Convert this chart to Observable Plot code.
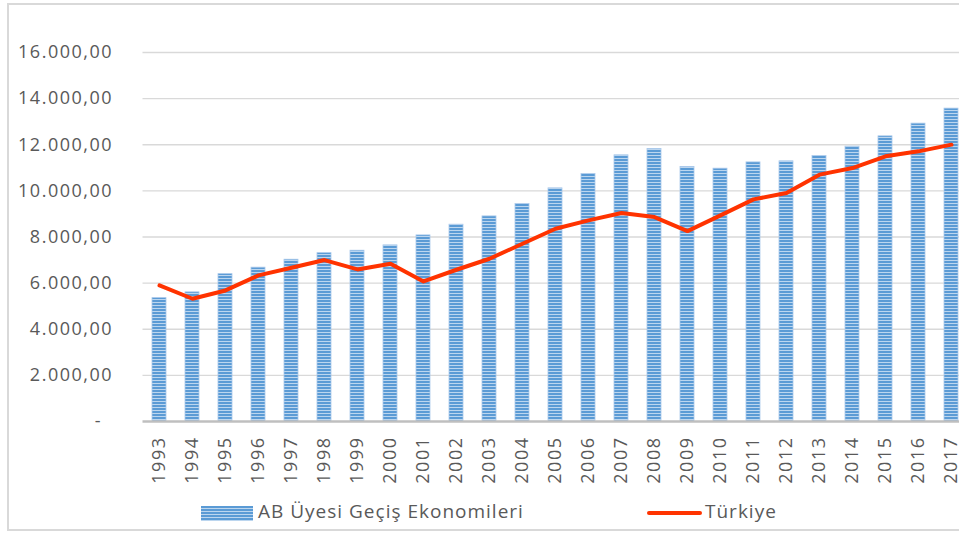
<!DOCTYPE html>
<html>
<head>
<meta charset="utf-8">
<script src="https://cdn.jsdelivr.net/npm/d3@7"></script>
<script src="https://cdn.jsdelivr.net/npm/@observablehq/plot@0.6"></script>
<style>
  html, body { margin: 0; padding: 0; width: 959px; height: 533px; overflow: hidden; background: #fff; }
  #frame { position: absolute; left: 7px; top: 3px; width: 1000px; height: 528px; border: 2px solid #d9d9d9; box-sizing: border-box; }
  #chart { position: absolute; left: 0; top: 0; }
  .leg { position: absolute; font-family: "Open Sans", sans-serif; font-size: 19px; color: #595959; letter-spacing: 1px; line-height: 1; }
</style>
</head>
<body>
<div id="frame"></div>
<div id="chart"></div>
<div class="leg" style="left:201px; top:506px; width:52px; height:15px; background: repeating-linear-gradient(to bottom, #5b9bd5 0px, #5b9bd5 2px, #bcd6ef 2px, #bcd6ef 3px);"></div>
<div class="leg" style="left:258px; top:502px;">AB Üyesi Geçiş Ekonomileri</div>
<div class="leg" style="left:647px; top:511px; width:55px; height:4px; background:#ff3300; border-radius:2px;"></div>
<div class="leg" style="left:705px; top:502px;">Türkiye</div>
<script>
const years = ["1993","1994","1995","1996","1997","1998","1999","2000","2001","2002","2003","2004","2005","2006","2007","2008","2009","2010","2011","2012","2013","2014","2015","2016","2017"];
const abValues = [5350, 5600, 6390, 6670, 7015, 7300, 7405, 7636, 8069, 8533, 8894, 9428, 10108, 10730, 11540, 11813, 11033, 10962, 11236, 11280, 11510, 11917, 12364, 12915, 13566];
const trValues = [5900, 5322, 5683, 6334, 6668, 7000, 6594, 6840, 6074, 6580, 7057, 7708, 8359, 8720, 9038, 8864, 8257, 8937, 9631, 9906, 10703, 10990, 11497, 11714, 12004];
const yTicks = [2000, 4000, 6000, 8000, 10000, 12000, 14000, 16000];

const ab = years.map((y, i) => ({year: y, value: abValues[i]}));
const tr = years.map((y, i) => ({year: y, value: trValues[i]}));

const fmt = d => d3.format(",.2f")(d).replace(/,/g, "X").replace(/\./g, ",").replace(/X/g, ".");
const font = "'Open Sans', sans-serif";

const svg = Plot.plot({
  width: 968,
  height: 500,
  marginLeft: 142.5,
  marginRight: 0,
  marginTop: 52,
  marginBottom: 79,
  style: {fontFamily: font, fontSize: "18px", color: "#595959", background: "transparent", maxWidth: "none"},
  x: {domain: years, paddingInner: 0.58, paddingOuter: 0.29},
  y: {domain: [0, 16000]},
  marks: [
    Plot.ruleY(yTicks, {stroke: "#d9d9d9", strokeWidth: 1.3}),
    Plot.barY(ab, {x: "year", y: "value", fill: "url(#hstripe)", stroke: "#a9c8ea", strokeWidth: 0.8}),
    Plot.ruleY([0], {stroke: "#bfbfbf", strokeWidth: 2.5}),
    Plot.lineY(tr, {x: "year", y: "value", stroke: "#ff3300", strokeWidth: 4, strokeLinejoin: "round", strokeLinecap: "round"}),
    Plot.axisY(yTicks, {tickSize: 0, tickPadding: 30, tickFormat: fmt, fill: "#595959", label: null, fontSize: 18}),
    Plot.axisY([0], {tickSize: 0, tickPadding: 41, tickFormat: () => "-", fill: "#595959", label: null, fontSize: 18}),
    Plot.axisX({tickSize: 0, tickPadding: 15, tickRotate: -90, fill: "#595959", label: null, fontSize: 18})
  ]
});
svg.style.maxWidth = "none";
svg.style.letterSpacing = "1.5px";
const defs = d3.select(svg).insert("defs", ":first-child");
const pat = defs.append("pattern").attr("id", "hstripe").attr("patternUnits", "userSpaceOnUse").attr("width", 4).attr("height", 3);
pat.append("rect").attr("width", 4).attr("height", 3).attr("fill", "#5b9bd5");
pat.append("rect").attr("y", 2).attr("width", 4).attr("height", 1).attr("fill", "#bcd6ef");
document.getElementById("chart").appendChild(svg);
</script>
</body>
</html>
